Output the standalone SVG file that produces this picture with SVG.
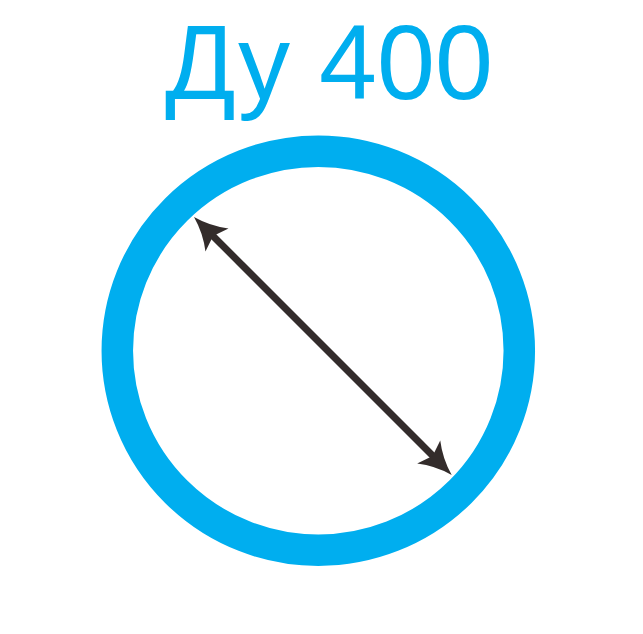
<svg xmlns="http://www.w3.org/2000/svg" width="643" height="634" viewBox="0 0 643 634">
<defs>
<style>
.title{font-family:"Liberation Sans",Arial,sans-serif;font-size:106px;fill:#00AEEF}
.ring{fill:none;stroke:#00AEEF;stroke-width:31.5}
.shaft{stroke:#332C2B;stroke-width:7;fill:none}
.head{fill:#332C2B}
</style>
<path id="ah" d="M0,0 Q-18,5 -32.5,16.3 L-27,0 L-32.5,-16.3 Q-18,-5 0,0 Z"/>
</defs>
<rect width="643" height="634" fill="#fff"/>
<g id="label">
<text class="title" x="165" y="98.5" textLength="328" lengthAdjust="spacingAndGlyphs">Ду 400</text>
</g>
<g id="pipe">
<ellipse class="ring" cx="318.3" cy="350.7" rx="201" ry="199.5"/>
</g>
<g id="connectors">
<line class="shaft" x1="212" y1="235" x2="434" y2="457"/>
<use href="#ah" class="head" transform="translate(451.7,475) rotate(45)"/>
<use href="#ah" class="head" transform="translate(194,217) rotate(225)"/>
</g>
</svg>
